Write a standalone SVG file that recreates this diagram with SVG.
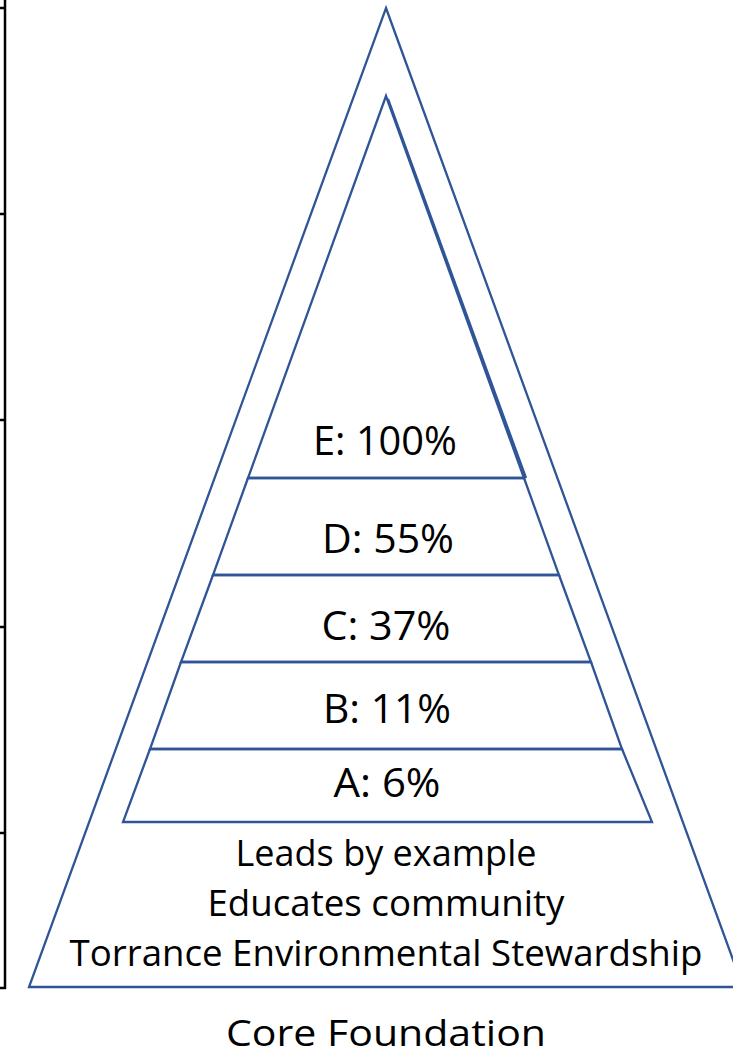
<svg xmlns="http://www.w3.org/2000/svg" width="733" height="1057" viewBox="0 0 733 1057">
<style>
.tier{fill:none;stroke:#2F5597;stroke-width:2.3;stroke-linejoin:miter}
.ax{stroke:#000;stroke-width:2.5;fill:none}
.t{font-family:"Open Sans","Liberation Sans",sans-serif;font-size:41px;fill:#000;text-anchor:middle}
.s{font-size:37px}
</style>
<rect width="733" height="1057" fill="#fff"/>
<g id="axis">
<line class="ax" x1="5" y1="0" x2="5" y2="989"/>
<line class="ax" x1="0" y1="8" x2="6" y2="8"/>
<line class="ax" x1="0" y1="214" x2="6" y2="214"/>
<line class="ax" x1="0" y1="420" x2="6" y2="420"/>
<line class="ax" x1="0" y1="627" x2="6" y2="627"/>
<line class="ax" x1="0" y1="833" x2="6" y2="833"/>
<line class="ax" x1="0" y1="988" x2="6" y2="988"/>
</g>
<g id="outer">
<polygon class="tier" points="386,8 743,987 29,987"/>
<text class="t s" x="386" y="866" textLength="301" lengthAdjust="spacingAndGlyphs">Leads by example</text>
<text class="t s" x="386" y="916" textLength="357" lengthAdjust="spacingAndGlyphs">Educates community</text>
<text class="t s" x="386" y="966" textLength="633" lengthAdjust="spacingAndGlyphs">Torrance Environmental Stewardship</text>
</g>
<g id="tierE">
<polygon class="tier" points="386,96 524,478 248,478"/>
<line class="tier" x1="388" y1="99" x2="526" y2="478"/>
<text class="t" x="385" y="455" textLength="144" lengthAdjust="spacingAndGlyphs">E: 100%</text>
</g>
<g id="tierD">
<polygon class="tier" points="248,478 524,478 559,575 213,575"/>
<text class="t" x="388" y="553" textLength="132" lengthAdjust="spacingAndGlyphs">D: 55%</text>
</g>
<g id="tierC">
<polygon class="tier" points="213,575 559,575 591,662 181,662"/>
<text class="t" x="386" y="640" textLength="129" lengthAdjust="spacingAndGlyphs">C: 37%</text>
</g>
<g id="tierB">
<polygon class="tier" points="181,662 591,662 622,749 150,749"/>
<text class="t" x="387" y="723" textLength="128" lengthAdjust="spacingAndGlyphs">B: 11%</text>
</g>
<g id="tierA">
<polygon class="tier" points="150,749 622,749 652,822 123,822"/>
<text class="t" x="387" y="797" textLength="107" lengthAdjust="spacingAndGlyphs">A: 6%</text>
</g>
<g id="caption">
<text class="t s" x="386" y="1046" textLength="320" lengthAdjust="spacingAndGlyphs">Core Foundation</text>
</g>
</svg>
